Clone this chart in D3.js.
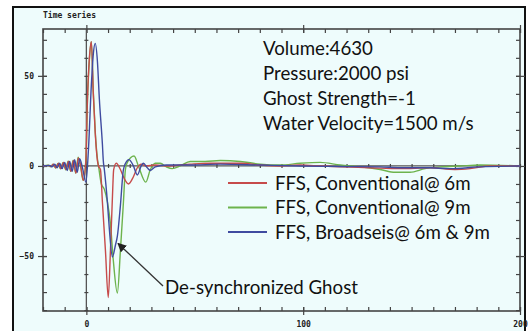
<!DOCTYPE html>
<html>
<head>
<meta charset="utf-8">
<script src="https://cdn.jsdelivr.net/npm/d3@7"></script>
<style>
  html, body { margin: 0; padding: 0; background: #ffffff; }
  svg { display: block; }
</style>
</head>
<body>
<svg id="chart" width="529" height="331"></svg>
<script>
// Far-field source signatures, time in ms, amplitude in bar-m
const conv6m = [
  [-20,0],[-17.5,0.3],[-16.4,-0.3],[-15.2,1],[-14.1,-1],[-12.9,1.5],[-11.8,-1.5],[-10.6,2],[-9.4,-2],
  [-8.3,2.5],[-7.1,-3],[-6.0,3],[-4.8,-4],[-3.7,4.5],[-2.6,0],[-1.4,-8],[-0.2,4],[0.5,37],[1.4,60],
  [2.3,69],[3.2,40],[4.1,18],[5.1,3],[5.6,0],[6.5,-2],[7.4,-20],[8.8,-47],[10.1,-73],[11.1,-47],
  [12.0,-18],[12.6,-2],[13.8,1.5],[15.7,-2],[17.5,-7],[19.4,-10],[21.7,-6],[23.5,-1],[25.3,1],
  [27.6,0],[31.8,0.5],[36.9,0],[47.9,1],[57.1,1.5],[71,1.5],[80.2,0.5],[89.4,0],[98.6,0.5],
  [107.8,0],[117.1,-0.5],[130.9,-1],[144.7,-1.5],[158.5,-1],[170,-2],[177,-1.5],[186.2,0],[200,0]
];
const conv9m = [
  [-20,0],[-17.6,0.4],[-16.5,-0.4],[-15.3,1],[-14.2,-1.1],[-13,1.5],[-11.9,-1.6],[-10.7,2],[-9.5,-2.2],
  [-8.4,2.6],[-7.2,-3],[-6.1,3.2],[-4.9,-4],[-3.8,4.8],[-2.7,0],[-1.5,-8],[-0.2,3],[0.5,36],[1.4,59],
  [2.3,69],[3.2,41],[4.1,19],[5.1,4],[5.6,0],[6.9,-10],[8.3,-13],[9.7,-20],[11.1,-32],[12.4,-52],
  [14.3,-70.5],[15.7,-47],[17.1,-20],[18.0,-2],[18.9,2],[22.0,5.5],[24.0,0],[27.4,-9],[29.5,-2],
  [31.8,1.5],[34.1,1.5],[36.9,-0.5],[39.6,-1.5],[43.3,0],[47.9,2.5],[54.8,2.5],[61.8,3],[71,2.5],
  [80.2,1],[89.4,0.5],[98.6,1.5],[107.8,2],[117.1,0.5],[126.3,-0.5],[135.5,-2],[142.4,-3.5],
  [149.3,-3.5],[156.2,-1.5],[163.1,-0.5],[172.4,0],[181.6,0.5],[200,0]
];
const broadseis = [
  [-20,0],[-17,0.3],[-15.8,-0.5],[-14.6,1],[-13.5,-1],[-12.3,1.5],[-11.2,-1.5],[-10,2],[-8.8,-2.5],
  [-7.7,2.5],[-6.5,-3],[-5.4,3.5],[-4.2,-3.5],[-3.1,4],[-1.8,-1],[-0.2,-9],[1.0,10],[2.3,45],[3.2,62],
  [4.1,68],[5.1,58],[6.0,37],[7.4,12],[7.8,3],[8.3,-2],[9.7,-20],[10.6,-35],[12.0,-50.5],[13.4,-44],
  [14.3,-39],[15.7,-22],[17.1,-2],[18.9,3],[19.6,3.5],[21.7,0],[23.5,-5],[25.3,0],[26.3,1.5],
  [28.1,-1],[29.5,-2.5],[31.8,-0.5],[36.9,0.5],[47.9,0.5],[61.8,1],[80.2,0.5],[98.6,0],[117.1,-0.3],
  [135.5,-0.5],[144.7,-1],[158.5,-1],[167.7,-1.5],[181.6,-0.5],[200,0]
];

const seriesNames = ["FFS, Conventional@ 6m", "FFS, Conventional@ 9m", "FFS, Broadseis@ 6m & 9m"];
const seriesColors = ["#c64b4b", "#6db34d", "#3f4ba0"];
const yLabels = [50, 0, -50];
const xLabels = [0, 100, 200];
const infoLines = ["Volume:4630", "Pressure:2000 psi", "Ghost Strength=-1", "Water Velocity=1500 m/s"];
const chartTitle = "Time series";
const ghostNote = "De-synchronized Ghost";

const svg = d3.select("#chart");
const plotL = 43, plotR = 520, plotT = 29, plotB = 311;
const x = d3.scaleLinear().domain([-20, 200]).range([plotL, plotR]);
const y = d3.scaleLinear().domain([-80.5, 76]).range([plotB, plotT]);

// outer panel
svg.append("rect").attr("x", 13).attr("y", 7).attr("width", 512).attr("height", 330)
  .attr("fill", "#eefcfc").attr("stroke", "#111").attr("stroke-width", 2);

const monoFont = "'DejaVu Sans Mono', monospace";
svg.append("text").attr("x", plotL).attr("y", 18).text(chartTitle)
  .attr("font-family", monoFont).attr("font-size", 8).attr("font-weight", "bold").attr("fill", "#222");

const minorX = d3.range(-20, 201, 10);
const minorY = d3.range(-80, 71, 10);
const axisColor = "#444";

function styleAxis(g) {
  g.select(".domain").remove();
  g.selectAll("line").attr("stroke", axisColor).attr("stroke-width", 1.2);
  g.selectAll("text").attr("font-family", monoFont).attr("font-size", 8)
    .attr("font-weight", "bold").attr("fill", "#222");
}

// minor ticks pointing inward on all four sides
svg.append("g").attr("transform", `translate(${plotL},0)`)
  .call(d3.axisRight(y).tickValues(minorY).tickSize(4).tickFormat("")).call(styleAxis);
svg.append("g").attr("transform", `translate(${plotR},0)`)
  .call(d3.axisLeft(y).tickValues(minorY).tickSize(4).tickFormat("")).call(styleAxis);
svg.append("g").attr("transform", `translate(0,${plotT})`)
  .call(d3.axisBottom(x).tickValues(minorX).tickSize(4).tickFormat("")).call(styleAxis);
svg.append("g").attr("transform", `translate(0,${plotB})`)
  .call(d3.axisTop(x).tickValues(minorX).tickSize(4).tickFormat("")).call(styleAxis);

// labelled major ticks
svg.append("g").attr("transform", `translate(${plotL + 4},0)`)
  .call(d3.axisLeft(y).tickValues(yLabels).tickSize(9).tickPadding(4)).call(styleAxis);
svg.append("g").attr("transform", `translate(${plotR - 4},0)`)
  .call(d3.axisRight(y).tickValues(yLabels).tickSize(9).tickFormat("")).call(styleAxis);
svg.append("g").attr("transform", `translate(0,${plotB - 4})`)
  .call(d3.axisBottom(x).tickValues(xLabels).tickSize(8).tickPadding(6)).call(styleAxis);
svg.append("g").attr("transform", `translate(0,${plotT - 4})`)
  .call(d3.axisBottom(x).tickValues(xLabels).tickSize(8).tickFormat("")).call(styleAxis);

// zero lines with small ticks
svg.append("line").attr("x1", plotL).attr("x2", plotR).attr("y1", y(0)).attr("y2", y(0))
  .attr("stroke", "#555").attr("stroke-width", 1.3);
svg.append("line").attr("x1", x(0)).attr("x2", x(0)).attr("y1", plotT).attr("y2", plotB)
  .attr("stroke", "#555").attr("stroke-width", 1.3);
svg.append("g").attr("transform", `translate(0,${y(0) - 2})`)
  .call(d3.axisBottom(x).tickValues(minorX).tickSize(4).tickFormat("")).call(styleAxis);
svg.append("g").attr("transform", `translate(${x(0) - 2},0)`)
  .call(d3.axisRight(y).tickValues(minorY).tickSize(4).tickFormat("")).call(styleAxis);

// frame
svg.append("rect").attr("x", plotL).attr("y", plotT).attr("width", plotR - plotL).attr("height", plotB - plotT)
  .attr("fill", "none").attr("stroke", axisColor).attr("stroke-width", 1.6);

// signatures
const line = d3.line().x(d => x(d[0])).y(d => y(d[1])).curve(d3.curveMonotoneX);
const drawOrder = [1, 0, 2];
const data = [conv6m, conv9m, broadseis];
drawOrder.forEach(i => {
  svg.append("path").datum(data[i]).attr("d", line).attr("fill", "none")
    .attr("stroke", seriesColors[i]).attr("stroke-width", 1.4).attr("stroke-linejoin", "round");
});

// annotation text
const textFont = "Lato, 'Open Sans', sans-serif";
const textSize = 18.7;
svg.append("g").selectAll("text").data(infoLines).join("text")
  .attr("x", 263).attr("y", (d, i) => 55 + i * 25).text(d => d)
  .attr("font-family", textFont).attr("font-size", textSize).attr("fill", "#111");

// legend
const legend = svg.append("g");
seriesNames.forEach((name, i) => {
  const ly = 183 + i * 24.5;
  legend.append("line").attr("x1", 228).attr("x2", 267).attr("y1", ly).attr("y2", ly)
    .attr("stroke", seriesColors[i]).attr("stroke-width", 1.8);
  legend.append("text").attr("x", 275).attr("y", ly + 6.5).text(name)
    .attr("font-family", textFont).attr("font-size", textSize).attr("fill", "#111");
});

// ghost arrow
svg.append("defs").append("marker").attr("id", "arrowHead").attr("viewBox", "0 0 10 10")
  .attr("refX", 9).attr("refY", 5).attr("markerWidth", 7).attr("markerHeight", 7).attr("orient", "auto")
  .append("path").attr("d", "M0,0 L10,5 L0,10 z").attr("fill", "#222");
svg.append("line").attr("x1", 163).attr("y1", 286).attr("x2", x(14.6)).attr("y2", y(-43))
  .attr("stroke", "#333").attr("stroke-width", 1.3).attr("marker-end", "url(#arrowHead)");
svg.append("text").attr("x", 165).attr("y", 294).text(ghostNote)
  .attr("font-family", textFont).attr("font-size", textSize).attr("fill", "#111");
</script>
</body>
</html>
